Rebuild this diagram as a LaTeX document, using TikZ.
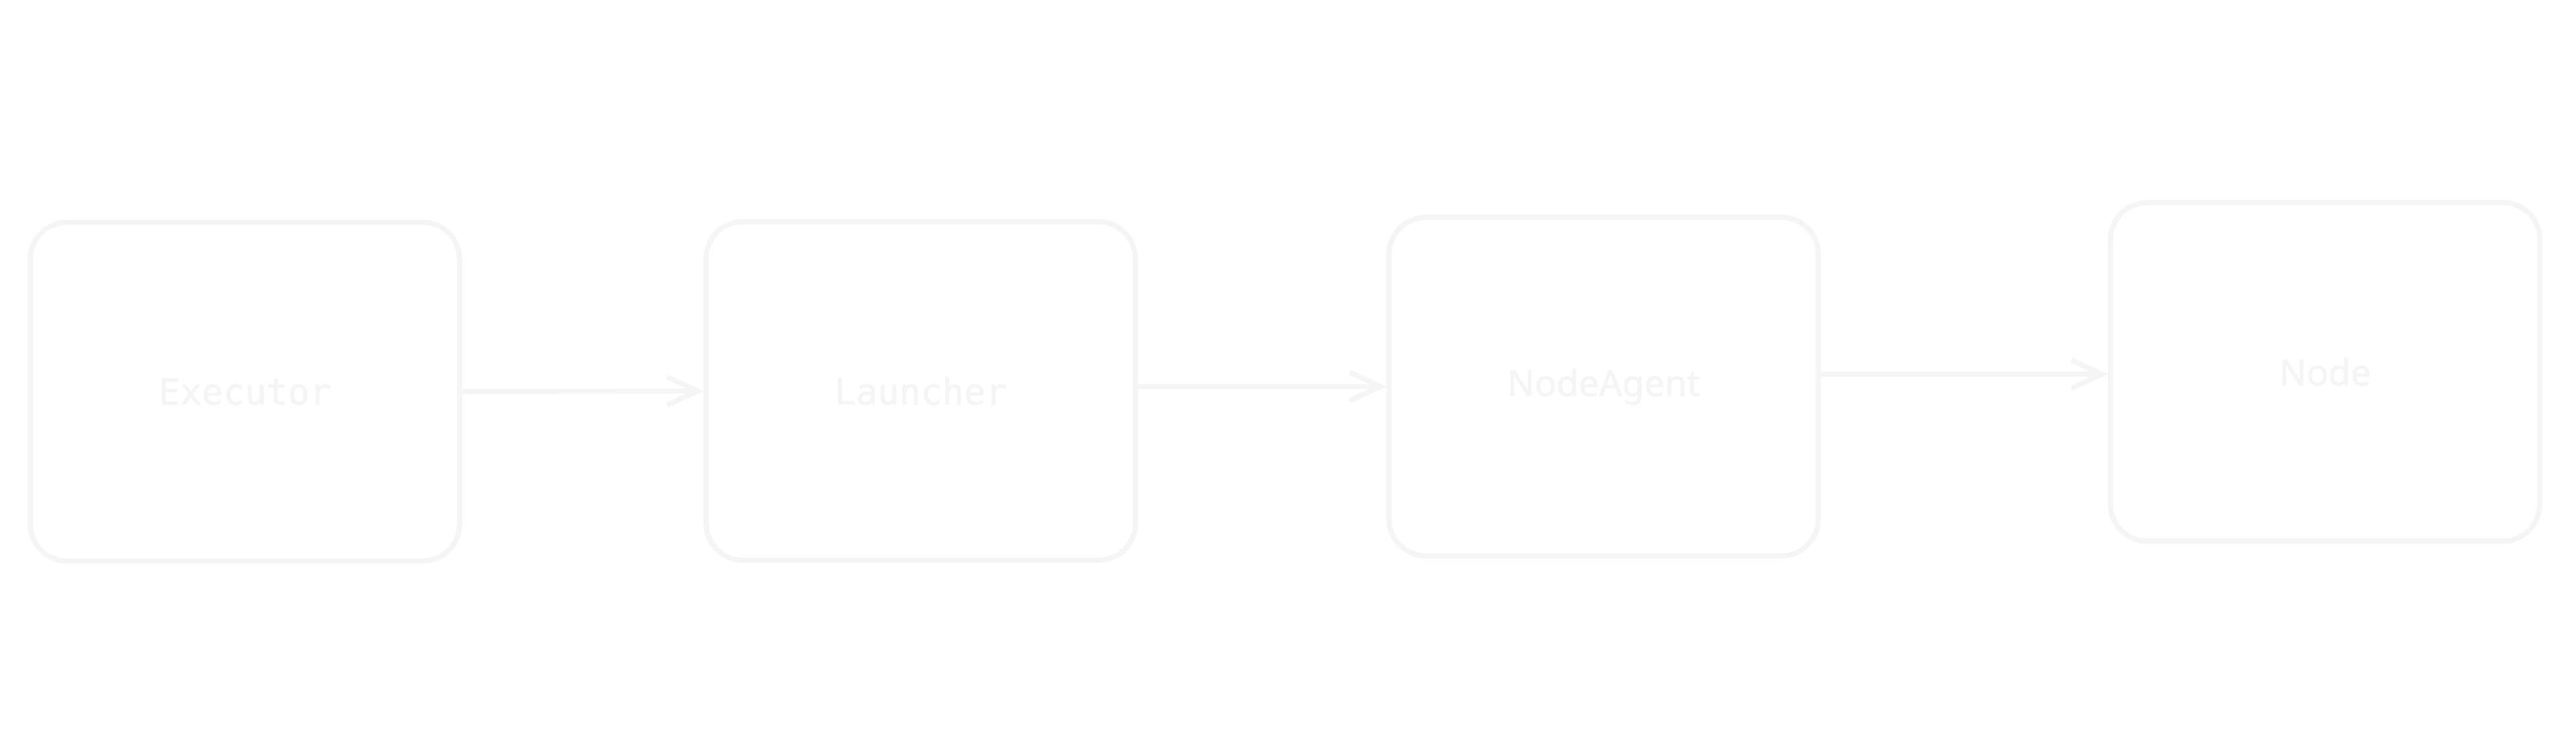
\documentclass[tikz,border=0pt]{standalone}
\usepackage{fontspec}
\setmainfont{Noto Sans}
\newfontfamily\boxsans[FakeBold=1.5]{Noto Sans}
\newfontfamily\boxmono[FakeBold=1.5]{DejaVu Sans Mono}
\usetikzlibrary{arrows.meta}
\definecolor{paleline}{RGB}{245,245,245}
\definecolor{paletext}{RGB}{245,245,245}
\begin{document}
\begin{tikzpicture}[
	box/.style={draw=paleline, text=paletext, shape=rectangle, rounded corners=0.55cm, line width=2.2pt, minimum width=6.4cm, minimum height=5.05cm},
	>={Straight Barb[length=0.45cm, width=0.42cm, line width=2.2pt]}
	]
						\fill[white] (0,0) rectangle (38.4,-11.07);
						\useasboundingbox (0,0) rectangle (38.4,-11.07);

						\node[box, font=\boxmono\fontsize{15.2}{18}\selectfont] (exec) at (3.65,-5.84) {Executor};
						\node[box, font=\boxmono\fontsize{15.2}{18}\selectfont] (launch) at (13.725,-5.83) {Launcher};
						\node[box, font=\boxsans\fontsize{15.3}{18}\selectfont] (agent) at (23.905,-5.765) {NodeAgent};
						\node[box, font=\boxsans\fontsize{15.3}{18}\selectfont] (node) at (34.66,-5.545) {Node};

						\draw[->, draw=paleline, line width=2.2pt] (exec.east) -- (launch.west);
						\draw[->, draw=paleline, line width=2.2pt] (launch.east |- agent.west) -- (agent.west);
						\draw[->, draw=paleline, line width=2.2pt] (agent.east |- 0,-5.58) -- (node.west |- 0,-5.58);
					\end{tikzpicture}
\end{document}
